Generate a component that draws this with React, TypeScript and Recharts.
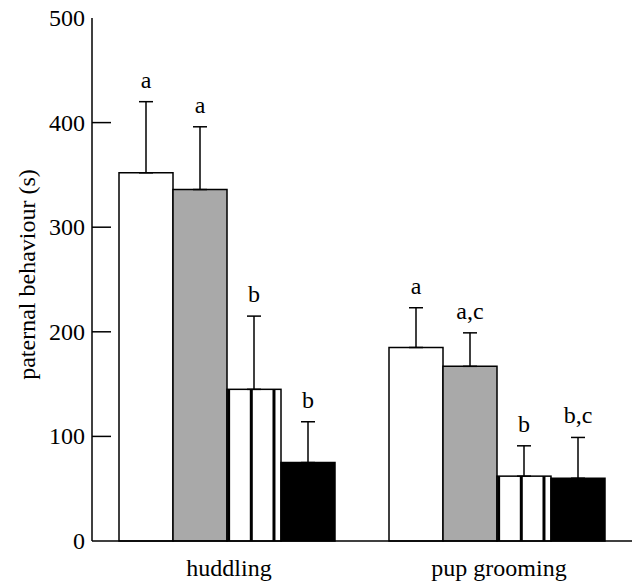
import { BarChart, Bar, XAxis, YAxis, ErrorBar, LabelList } from 'recharts'

const categories = ['huddling', 'pup grooming']

const whiteVals = [352, 185]
const whiteErr = [68, 38]
const grayVals = [336, 167]
const grayErr = [60, 32]
const stripedVals = [145, 62]
const stripedErr = [70, 29]
const blackVals = [75, 60]
const blackErr = [39, 39]

const whiteLetters = ['a', 'a']
const grayLetters = ['a', 'a,c']
const stripedLetters = ['b', 'b']
const blackLetters = ['b', 'b,c']

const yTicks = [0, 100, 200, 300, 400, 500]

const FONT = 'Liberation Serif'

const data = categories.map((name, i) => ({
  name,
  white: whiteVals[i],
  whiteE: [0, whiteErr[i]],
  gray: grayVals[i],
  grayE: [0, grayErr[i]],
  striped: stripedVals[i],
  stripedE: [0, stripedErr[i]],
  black: blackVals[i],
  blackE: [0, blackErr[i]],
}))

// stripes: white bar with thick vertical lines inside
function StripedBar(props: any) {
  const { x, y, width, height } = props
  if (!height) return null
  const lines = [0.03, 0.45, 0.87]
  return (
    <g>
      <rect x={x} y={y} width={width} height={height} fill="#fff" stroke="#000" strokeWidth={1.5} />
      {lines.map(f => (
        <line key={f} x1={x + width * f} x2={x + width * f} y1={y} y2={y + height} stroke="#000" strokeWidth={3} />
      ))}
    </g>
  )
}

function letterLabel(letters: string[], errs: number[]) {
  return (props: any) => {
    const vb = props.viewBox || props
    const { x, y, width, height } = vb
    const i = props.index
    const v = props.value
    if (i == null || !v) return null
    const pxPerUnit = height / v
    const top = y - errs[i] * pxPerUnit
    return (
      <text x={x + width / 2} y={top - 14} textAnchor="middle" style={{ fontFamily: FONT, fontSize: 24 }} fill="#000">
        {letters[i]}
      </text>
    )
  }
}

function YTick(props: any) {
  const { x, y, payload } = props
  const v = payload.value
  return (
    <g>
      {v > 0 && v < 500 && <line x1={x + 8} x2={x + 27} y1={y} y2={y} stroke="#000" strokeWidth={1.5} />}
      <text x={x + 1} y={y + 8} textAnchor="end" style={{ fontFamily: FONT, fontSize: 24 }} fill="#000">
        {v}
      </text>
    </g>
  )
}

function XTick(props: any) {
  const { x, y, payload } = props
  return (
    <text x={x + 2} y={y + 27} textAnchor="middle" style={{ fontFamily: FONT, fontSize: 24 }} fill="#000">
      {payload.value}
    </text>
  )
}

function YLabel(props: any) {
  const vb = props.viewBox || { x: 0, y: 0, width: 0, height: 0 }
  const cx = vb.x + 35
  const cy = vb.y + vb.height / 2 - 5
  return (
    <text
      x={cx}
      y={cy}
      transform={`rotate(-90, ${cx}, ${cy})`}
      textAnchor="middle"
      style={{ fontFamily: FONT, fontSize: 24 }}
      fill="#000"
    >
      paternal behaviour (s)
    </text>
  )
}

export default function App() {
  return (
    <div style={{ position: 'absolute', left: 0, top: 0, background: '#fff', fontFamily: FONT }}>
      <BarChart
        width={637}
        height={583}
        data={data}
        margin={{ top: 18, right: 5, left: 0, bottom: 0 }}
        barGap={0}
        barCategoryGap="10%"
      >
        <XAxis
          dataKey="name"
          height={42}
          axisLine={{ stroke: '#000', strokeWidth: 1.5 }}
          tickLine={false}
          tick={<XTick />}
          interval={0}
        />
        <YAxis
          width={92}
          domain={[0, 500]}
          ticks={yTicks}
          interval={0}
          axisLine={{ stroke: '#000', strokeWidth: 1.5 }}
          tickLine={false}
          tick={<YTick />}
          label={<YLabel />}
        />
        <Bar dataKey="white" fill="#fff" stroke="#000" strokeWidth={1.5} isAnimationActive={false}>
          <ErrorBar dataKey="whiteE" width={7} stroke="#000" strokeWidth={1.5} />
          <LabelList dataKey="white" content={letterLabel(whiteLetters, whiteErr)} />
        </Bar>
        <Bar dataKey="gray" fill="#a9a9a9" stroke="#000" strokeWidth={1.5} isAnimationActive={false}>
          <ErrorBar dataKey="grayE" width={7} stroke="#000" strokeWidth={1.5} />
          <LabelList dataKey="gray" content={letterLabel(grayLetters, grayErr)} />
        </Bar>
        <Bar dataKey="striped" shape={<StripedBar />} isAnimationActive={false}>
          <ErrorBar dataKey="stripedE" width={7} stroke="#000" strokeWidth={1.5} />
          <LabelList dataKey="striped" content={letterLabel(stripedLetters, stripedErr)} />
        </Bar>
        <Bar dataKey="black" fill="#000" stroke="#000" strokeWidth={1.5} isAnimationActive={false}>
          <ErrorBar dataKey="blackE" width={7} stroke="#000" strokeWidth={1.5} />
          <LabelList dataKey="black" content={letterLabel(blackLetters, blackErr)} />
        </Bar>
      </BarChart>
    </div>
  )
}
